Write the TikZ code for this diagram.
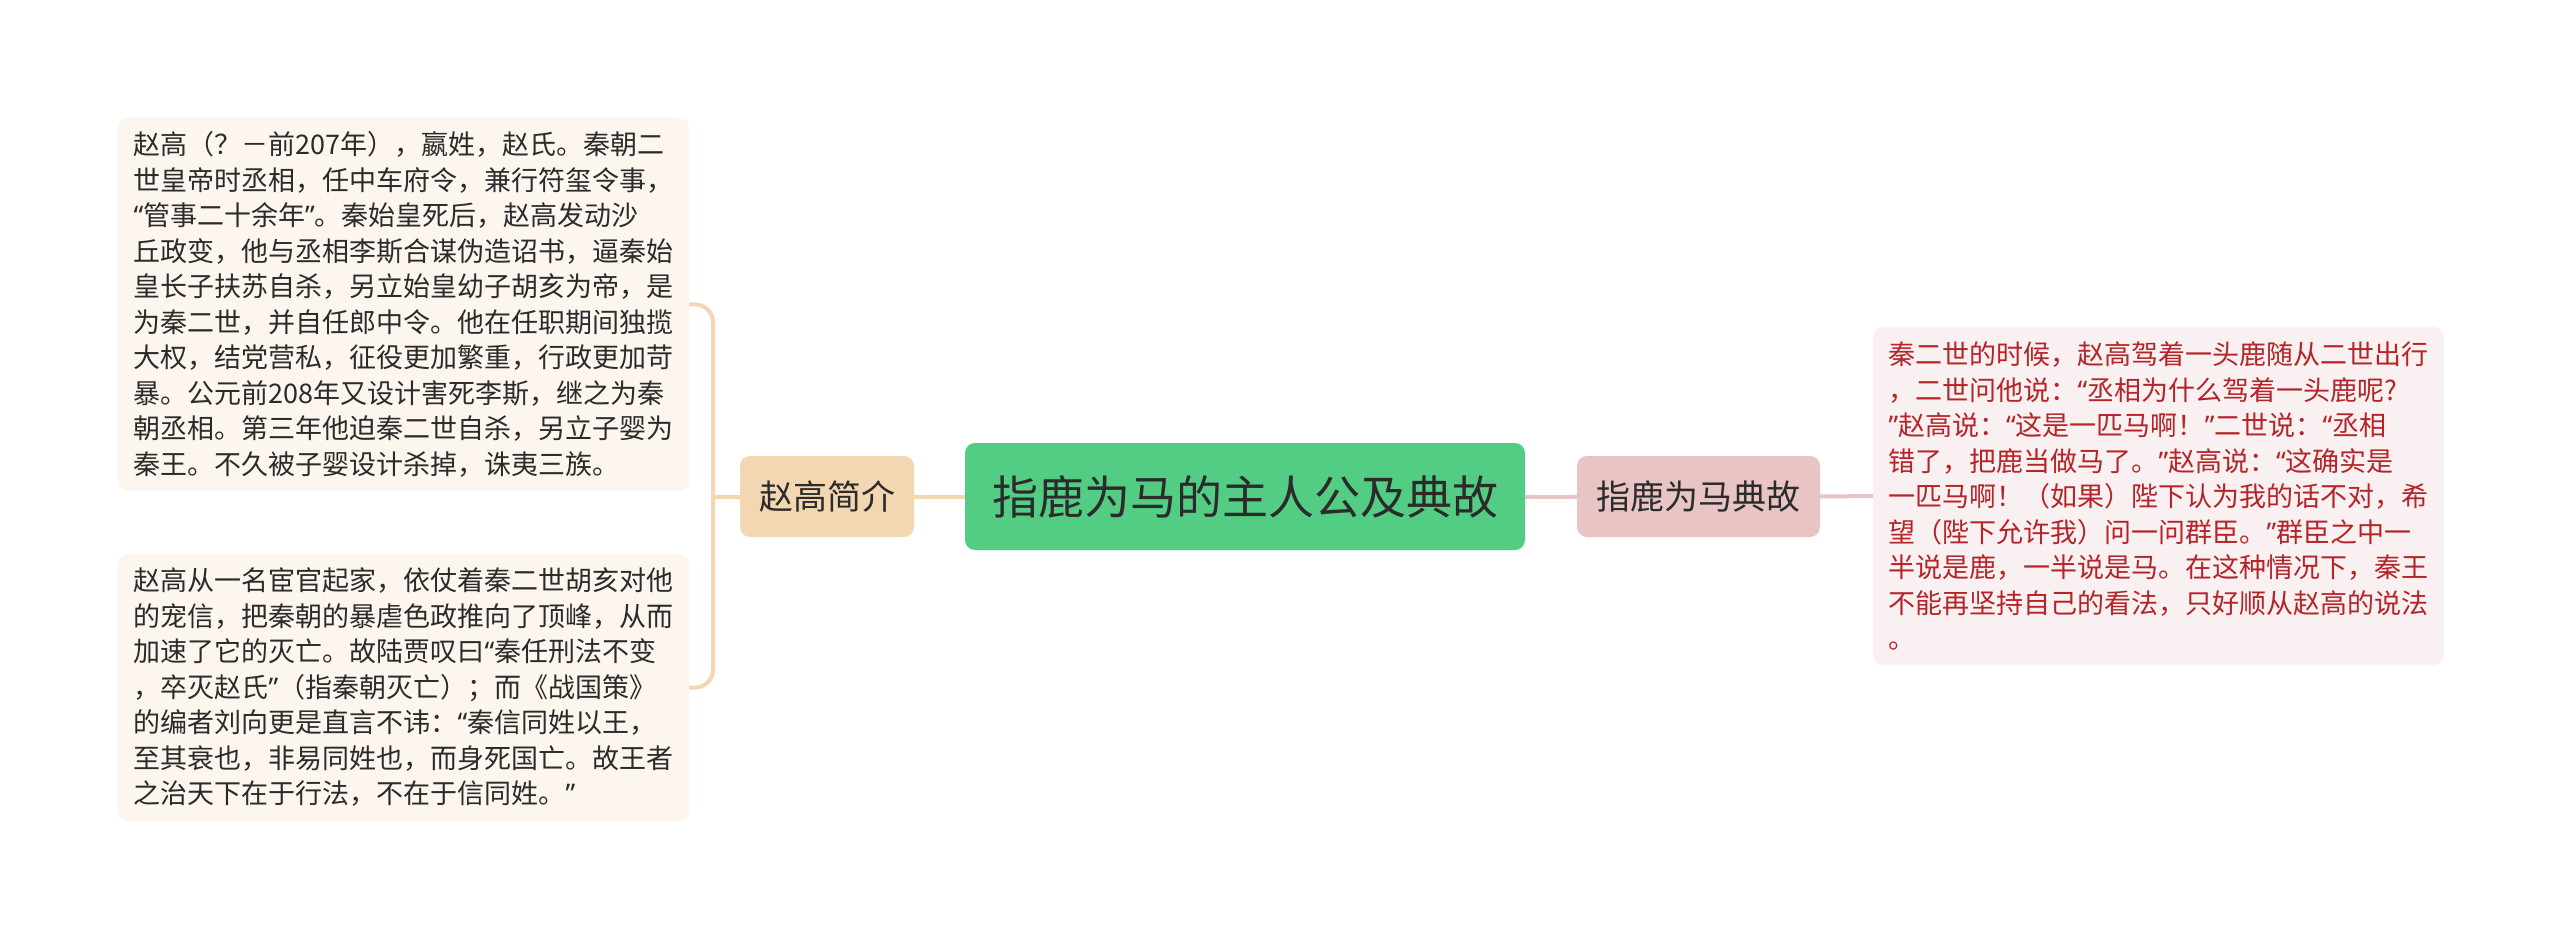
\documentclass[tikz,border=0pt]{standalone}
\usepackage{fontspec}
\newfontfamily\cjk{Noto Sans CJK SC}
\newfontfamily\latq{Noto Sans}
\newcommand{\myoq}{{\latq “}}
\newcommand{\mycq}{{\latq ”}}
\definecolor{green}{RGB}{83,204,132}
\definecolor{peach}{RGB}{243,214,178}
\definecolor{pink}{RGB}{232,196,196}
\definecolor{cream}{RGB}{253,246,239}
\definecolor{pinkbg}{RGB}{249,241,241}
\definecolor{darktext}{RGB}{43,43,43}
\definecolor{redtext}{RGB}{180,36,40}
\tikzset{
  rootbox/.style={fill=green, rounded corners=10pt, inner sep=0pt, minimum width=560pt, minimum height=107pt, text=darktext, font={\cjk\fontsize{46}{56}\selectfont}},
  topicbox/.style={rounded corners=10pt, inner sep=0pt, minimum height=81pt, text=darktext, font={\cjk\fontsize{34}{42}\selectfont}},
  leafbox/.style={rounded corners=10pt, inner sep=0pt, minimum width=571pt, align=left, font={\cjk\fontsize{27}{35.5}\selectfont}},
  leftline/.style={draw=peach, line width=4pt},
  rightline/.style={draw=pink, line width=4pt}
}
\begin{document}
\begin{tikzpicture}[x=1pt,y=-1pt]
\useasboundingbox[fill=white] (0,0) rectangle (2560,941);
\node[rootbox] (root) at (1245,496.5) {指鹿为马的主人公及典故};
\node[topicbox, fill=peach, minimum width=174pt] (zg) at (827,496.5) {赵高简介};
\node[topicbox, fill=pink, minimum width=243pt] (dg) at (1698.5,496.5) {指鹿为马典故};
\node[leafbox, fill=cream, text=darktext, minimum height=373pt] (b1) at (403.5,304.5) {赵高（？－前207年），嬴姓，赵氏。秦朝二\\世皇帝时丞相，任中车府令，兼行符玺令事，\\\myoq 管事二十余年\mycq 。秦始皇死后，赵高发动沙\\丘政变，他与丞相李斯合谋伪造诏书，逼秦始\\皇长子扶苏自杀，另立始皇幼子胡亥为帝，是\\为秦二世，并自任郎中令。他在任职期间独揽\\大权，结党营私，征役更加繁重，行政更加苛\\暴。公元前208年又设计害死李斯，继之为秦\\朝丞相。第三年他迫秦二世自杀，另立子婴为\\秦王。不久被子婴设计杀掉，诛夷三族。};
\node[leafbox, fill=cream, text=darktext, minimum height=267pt] (b2) at (403.5,687.5) {赵高从一名宦官起家，依仗着秦二世胡亥对他\\的宠信，把秦朝的暴虐色政推向了顶峰，从而\\加速了它的灭亡。故陆贾叹曰\myoq 秦任刑法不变\\，卒灭赵氏\mycq （指秦朝灭亡）；而《战国策》\\的编者刘向更是直言不讳：\myoq 秦信同姓以王，\\至其衰也，非易同姓也，而身死国亡。故王者\\之治天下在于行法，不在于信同姓。\mycq};
\node[leafbox, fill=pinkbg, text=redtext, minimum height=338pt] (b3) at (2158.5,496) {秦二世的时候，赵高驾着一头鹿随从二世出行\\，二世问他说：\myoq 丞相为什么驾着一头鹿呢?\\\mycq 赵高说：\myoq 这是一匹马啊！\mycq 二世说：\myoq 丞相\\错了，把鹿当做马了。\mycq 赵高说：\myoq 这确实是\\一匹马啊！（如果）陛下认为我的话不对，希\\望（陛下允许我）问一问群臣。\mycq 群臣之中一\\半说是鹿，一半说是马。在这种情况下，秦王\\不能再坚持自己的看法，只好顺从赵高的说法\\。};
\coordinate (bj) at (713,496.5);
\draw[leftline] (root.west) -- (zg.east);
\draw[leftline] (zg.west) -- (bj);
\draw[leftline, rounded corners=18pt] (b1.east) -| (bj) |- (b2.east);
\draw[rightline] (root.east) -- (dg.west);
\draw[rightline] (dg.east) -- (b3.west);
\end{tikzpicture}
\end{document}
